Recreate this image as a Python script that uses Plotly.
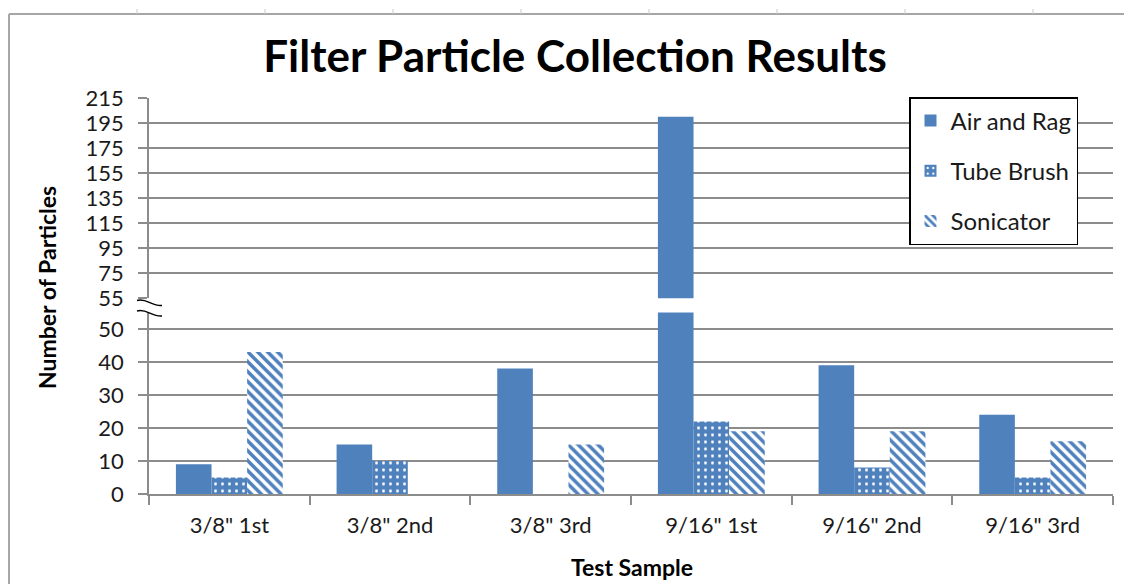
import plotly.graph_objects as go

categories = ['3/8" 1st', '3/8" 2nd', '3/8" 3rd', '9/16" 1st', '9/16" 2nd', '9/16" 3rd']
air_and_rag = [9, 15, 38, 200, 39, 24]
tube_brush = [5, 10, 0, 22, 8, 5]
sonicator = [43, 0, 15, 19, 19, 16]
lower_ticks = [0, 10, 20, 30, 40, 50]
upper_ticks = [55, 75, 95, 115, 135, 155, 175, 195, 215]

# the page body has an 8px margin: figure is placed at (8, 8) in the screenshot
OFF = 8
W, H = 1132 - OFF, 584 - OFF
# plot area in screenshot pixels
L, R, T, B = 149, 1113, 98, 494
BLUE = "#4F81BD"
GRID = "#8C8C8C"
FONT = "Lato"
TXT = "#1a1a1a"


def px(x):
    return (x - L) / (R - L)


def py(y):
    return (B - y) / (B - T)


series = [
    ("Air and Rag", air_and_rag, dict(color=BLUE)),
    ("Tube Brush", tube_brush, dict(color=BLUE, pattern=dict(shape=".", fgcolor="white", bgcolor=BLUE,
                                                              size=7, solidity=0.14, fillmode="replace"))),
    ("Sonicator", sonicator, dict(color=BLUE, pattern=dict(shape="\\", fgcolor=BLUE, bgcolor="white",
                                                            size=7, solidity=0.5, fillmode="replace"))),
]

fig = go.Figure()
for i, (name, vals, mk) in enumerate(series):
    for yax, show in (("y", True), ("y2", False)):
        fig.add_trace(go.Bar(
            x=categories, y=vals, name=name, legendgroup=name, showlegend=show,
            xaxis="x", yaxis=yax, offsetgroup=str(i),
            marker=dict(line=dict(width=0), **mk),
        ))

lower_top = 312.5
upper_bottom = 298.3

axis_common = dict(showline=True, linecolor=GRID, linewidth=1.5,
                   ticks="outside", ticklen=9, tickcolor=GRID, tickwidth=1.5,
                   tickfont=dict(family=FONT, size=22, color=TXT))

fig.update_layout(
    width=W, height=H,
    margin=dict(l=L - OFF, r=W - (R - OFF), t=T - OFF, b=H - (B - OFF), pad=0),
    paper_bgcolor="white", plot_bgcolor="white",
    barmode="group", bargap=0.335, bargroupgap=0,
    font=dict(family=FONT, size=22, color=TXT),
    title=dict(text="<b>Filter Particle Collection Results</b>", x=(575 - OFF) / W, xanchor="center",
               y=1 - (57 - OFF) / H, yanchor="middle", yref="container",
               font=dict(family=FONT, size=44, color="black")),
    xaxis=dict(type="category", showgrid=False, tickson="boundaries", ticklabelstandoff=11,
               anchor="y", range=[-0.5, 5.5], **axis_common),
    yaxis=dict(domain=[0, py(lower_top)], range=[0, 55], tickvals=lower_ticks,
               showgrid=True, gridcolor=GRID, gridwidth=1.5, zeroline=False,
               ticklabelstandoff=10, anchor="x", **axis_common),
    yaxis2=dict(domain=[py(upper_bottom), 1], range=[55, 215], tickvals=upper_ticks,
                showgrid=True, gridcolor=GRID, gridwidth=1.5, zeroline=False,
                ticklabelstandoff=10, anchor="x", **axis_common),
    legend=dict(x=px(909), y=py(97), xanchor="left", yanchor="top",
                bgcolor="white", bordercolor="black", borderwidth=1.5,
                font=dict(family=FONT, size=24, color=TXT),
                traceorder="grouped", tracegroupgap=16, itemwidth=30),
    showlegend=True,
)

fig.add_annotation(text="<b>Number of Particles</b>", textangle=-90, xref="paper", yref="paper",
                   x=px(47), y=py(288), xanchor="center", yanchor="middle", showarrow=False,
                   font=dict(family=FONT, size=23, color="black"))
fig.add_annotation(text="<b>Test Sample</b>", xref="paper", yref="paper",
                   x=px(632), y=py(567), xanchor="center", yanchor="middle", showarrow=False,
                   font=dict(family=FONT, size=23, color="black"))

# axis break marks
for y0 in (300.5, 311):
    path = "M {} {} C {} {} {} {} {} {}".format(
        px(137), py(y0), px(146), py(y0 - 3), px(152), py(y0 + 6), px(162), py(y0 + 5))
    fig.add_shape(type="path", path=path, xref="paper", yref="paper",
                  line=dict(color="black", width=1.5))

# outer frame (document border with ruler ticks)
FRAME = "#A6A6A6"
fig.add_shape(type="line", xref="paper", yref="paper", x0=px(9), y0=py(14), x1=px(1132), y1=py(14),
              line=dict(color=FRAME, width=2))
fig.add_shape(type="line", xref="paper", yref="paper", x0=px(9), y0=py(14), x1=px(9), y1=py(584),
              line=dict(color=FRAME, width=2))
for k in range(8):
    xx = 137 + 128 * k
    fig.add_shape(type="line", xref="paper", yref="paper", x0=px(xx), y0=py(9), x1=px(xx), y1=py(14),
                  line=dict(color="#C8C8C8", width=1))

fig.write_html("out.html")
